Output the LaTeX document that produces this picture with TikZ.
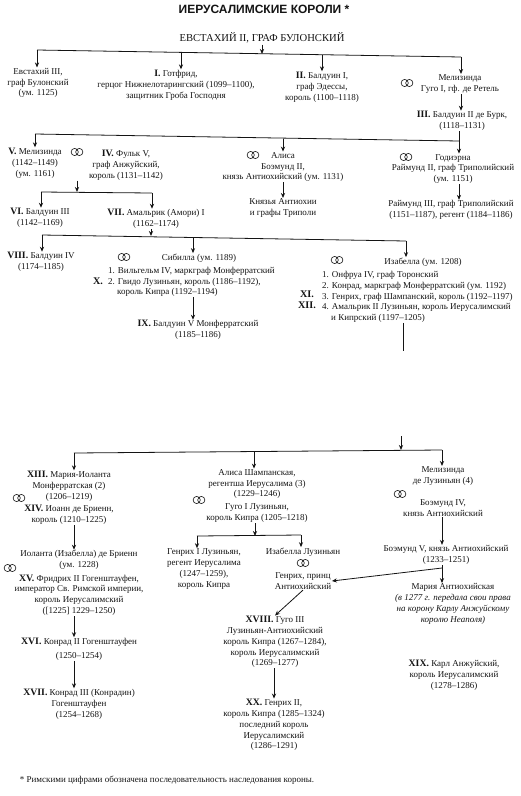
\documentclass[tikz,border=0pt]{standalone}
\usepackage{fontspec}
\setmainfont{Liberation Serif}
\newfontfamily\titlefont{Liberation Sans}
\usetikzlibrary{arrows.meta}
\definecolor{ink}{HTML}{141414}
\newcommand{\nr}[1]{\textbf{\fontsize{9.8}{10}\selectfont #1}}

\begin{document}
\begin{tikzpicture}[
    x=1pt, y=-1pt, text=ink,
    person/.style={inner sep=0.5pt, align=center, font=\fontsize{9}{10.8}\selectfont},
    listing/.style={inner sep=0pt, anchor=west, align=left, font=\fontsize{9}{10.8}\selectfont},
    numeral/.style={inner sep=0pt, font=\bfseries\fontsize{10.2}{11}\selectfont},
    edge/.style={-{Stealth[length=5pt, width=4.2pt]}, draw=ink, line width=0.8pt},
    bus/.style={draw=ink, line width=0.8pt},
    rings/.pic={\draw[ink, line width=0.6pt] (-2.3,0) circle (3.6) (2.3,0) circle (3.6);},
]
\useasboundingbox (0,0) rectangle (520,796);

% title
\node[inner sep=0pt, font=\titlefont\bfseries\fontsize{12}{13}\selectfont] (title) at (264, 9) {ИЕРУСАЛИМСКИЕ КОРОЛИ *};
\node[inner sep=1pt, font=\fontsize{10.6}{12}\selectfont] (eustace2) at (262, 38) {ЕВСТАХИЙ II, ГРАФ БУЛОНСКИЙ};

% first generation
\node[person] (eustace3) at (38, 83) {Евстахий III,\\граф Булонский\\(ум. 1125)};
\node[person] (gottfried) at (176, 85) {\nr{I.} Готфрид,\\герцог Нижнелотарингский (1099–1100),\\защитник Гроба Господня};
\node[person] (baldwin1) at (322, 87) {\nr{II.} Балдуин I,\\граф Эдессы,\\король (1100–1118)};
\node[person] (melis1) at (460, 84) {Мелизинда\\Гуго I, гф. де Ретель};
\node[person] (baldwin2) at (462, 121) {\nr{III.} Балдуин II де Бурк,\\(1118–1131)};
\pic (r1) at (407, 83) {rings};

% second generation
\node[person] (melis2) at (35, 163) {\nr{V.} Мелизинда\\(1142–1149)\\(ум. 1161)};
\node[person] (fulk) at (126, 165) {\nr{IV.} Фульк V,\\граф Анжуйский,\\король (1131–1142)};
\node[person] (alice) at (283, 167) {Алиса\\Боэмунд II,\\князь Антиохийский (ум. 1131)};
\node[person] (princes) at (283, 208) {Князья Антиохии\\и графы Триполи};
\node[person] (hodierna) at (453, 169) {Годиэрна\\Раймунд II, граф Триполийский\\(ум. 1151)};
\node[person] (raymond) at (451, 210) {Раймунд III, граф Триполийский\\(1151–1187), регент (1184–1186)};
\pic (r2) at (77, 152) {rings};
\pic (r3) at (253, 155) {rings};
\pic (r4) at (406, 157) {rings};

% third generation
\node[person] (baldwin3) at (40, 218) {\nr{VI.} Балдуин III\\(1142–1169)};
\node[person] (amalric) at (156, 219) {\nr{VII.} Амальрик (Амори) I\\(1162–1174)};
\node[person] (baldwin4) at (41, 262) {\nr{VIII.} Балдуин IV\\(1174–1185)};
\node[person] (sibylla) at (199, 258) {Сибилла (ум. 1189)};
\node[listing] (sibhusb) at (108, 282) {1. Вильгельм IV, маркграф Монферратский\\2. Гвидо Лузиньян, король (1186–1192),\\\hspace*{9pt}король Кипра (1192–1194)};
\node[numeral] (numx) at (98, 281) {X.};
\node[person] (baldwin5) at (198, 330) {\nr{IX.} Балдуин V Монферратский\\(1185–1186)};
\node[person] (isabella) at (423, 262) {Изабелла (ум. 1208)};
\node[listing] (isahusb) at (322, 297) {1. Онфруа IV, граф Торонский\\2. Конрад, маркграф Монферратский (ум. 1192)\\3. Генрих, граф Шампанский, король (1192–1197)\\4. Амальрик II Лузиньян, король Иерусалимский\\\hspace*{9pt}и Кипрский (1197–1205)};
\node[numeral] (numxi) at (307, 294) {XI.};
\node[numeral] (numxii) at (307, 305) {XII.};
\pic (r5) at (124, 257) {rings};
\pic (r6) at (337, 260) {rings};

% after the break
\node[person] (maria) at (69, 486) {\nr{XIII.} Мария-Иоланта\\Монферратская (2)\\(1206–1219)};
\node[person] (john) at (69, 515) {\nr{XIV.} Иоанн де Бриенн,\\король (1210–1225)};
\node[person] (yolanda) at (79, 560) {Иоланта (Изабелла) де Бриенн\\(ум. 1228)};
\node[person] (frederick) at (79, 595) {\nr{XV.} Фридрих II Гогенштауфен,\\император Св. Римской империи,\\король Иерусалимский\\([1225] 1229–1250)};
\node[person] (conrad2) at (79, 649) {\nr{XVI.} Конрад II Гогенштауфен\\[3pt](1250–1254)};
\node[person] (conrad3) at (79, 704) {\nr{XVII.} Конрад III (Конрадин)\\Гогенштауфен\\(1254–1268)};
\node[person] (alice2) at (257, 484) {Алиса Шампанская,\\регентша Иерусалима (3)\\(1229–1246)};
\node[person] (hugh1) at (257, 513) {Гуго I Лузиньян,\\король Кипра (1205–1218)};
\node[person] (henry1) at (204, 569) {Генрих I Лузиньян,\\регент Иерусалима\\(1247–1259),\\король Кипра};
\node[person] (isabella2) at (303, 552) {Изабелла Лузиньян};
\node[person] (henryp) at (303, 581) {Генрих, принц\\Антиохийский};
\node[person] (hugh3) at (275, 642) {\nr{XVIII.} Гуго III\\Лузиньян-Антиохийский\\король Кипра (1267–1284),\\король Иерусалимский\\(1269–1277)};
\node[person] (henry2) at (274, 725) {\nr{XX.} Генрих II,\\король Кипра (1285–1324)\\последний король\\Иерусалимский\\(1286–1291)};
\node[person] (melis3) at (443, 476) {Мелизинда\\де Лузиньян (4)};
\node[person] (bohem4) at (443, 508) {Боэмунд IV,\\князь Антиохийский};
\node[person] (bohem5) at (446, 555) {Боэмунд V, князь Антиохийский\\(1233–1251)};
\node[person] (mariaa) at (453, 604) {Мария Антиохийская\\\itshape (в 1277 г. передала свои права\\\itshape на корону Карлу Анжуйскому\\\itshape королю Неаполя)};
\node[person] (charles) at (454, 675) {\nr{XIX.} Карл Анжуйский,\\король Иерусалимский\\(1278–1286)};
\pic (r7) at (19, 498) {rings};
\pic (r8) at (10, 568) {rings};
\pic (r9) at (199, 500) {rings};
\pic (r10) at (303, 563) {rings};
\pic (r11) at (400, 494) {rings};

\node[inner sep=0pt, font=\fontsize{9}{10}\selectfont] (footnote) at (167, 780) {* Римскими цифрами обозначена последовательность наследования короны.};

% bus lines
\coordinate (a1) at (37, 50);
\coordinate (a2) at (181, 53);
\coordinate (a0) at (262, 54);
\coordinate (a3) at (322, 55);
\coordinate (a4) at (461, 57);
\coordinate (b1) at (35, 134);
\coordinate (b2) at (283, 139);
\coordinate (b3) at (459, 141);
\coordinate (c0) at (77, 192);
\coordinate (c1) at (41, 192);
\coordinate (c2) at (152, 193);
\coordinate (d0) at (151, 236);
\coordinate (d1) at (42, 235);
\coordinate (d2) at (193, 238);
\coordinate (d3) at (406, 241);
\coordinate (breaktop) at (403, 351);
\coordinate (breakend) at (401, 436);
\coordinate (e1) at (74, 453);
\coordinate (e2) at (254, 452);
\coordinate (e0) at (401, 450);
\coordinate (e3) at (442, 450);
\coordinate (f0) at (255, 536);
\coordinate (f1) at (197, 536);
\coordinate (f2) at (301, 535);
\coordinate (g0) at (442, 568);

\draw[bus] (a1) -- (a4);
\draw[bus] (b1) -- (b3);
\draw[bus] (c1) -- (c2);
\draw[bus] (d1) -- (d3);
\draw[bus] (e1) -- (e3);
\draw[bus] (f1) -- (f2);

\draw[edge] (eustace2.south -| a0) -- (a0);
\draw[edge] (a1) -- (eustace3.north -| a1);
\draw[edge] (a2) -- (gottfried.north -| a2);
\draw[edge] (a3) -- (baldwin1.north -| a3);
\draw[edge] (a4) -- (melis1.north -| a4);
\draw[edge] (melis1.south -| a4) -- (baldwin2.north -| a4);
\draw[bus] (baldwin2.south -| b3) -- (b3);
\draw[edge] (b3) -- (hodierna.north -| b3);
\draw[edge] (b1) -- (melis2.north -| b1);
\draw[edge] (b2) -- (alice.north -| b2);
\draw[edge] (alice) -- (princes);
\draw[edge] (hodierna.south -| b3) -- (raymond.north -| b3);
\draw[edge] (c0 |- fulk.south) -- (c0);
\draw[edge] (c1) -- (baldwin3.north -| c1);
\draw[edge] (c2) -- (amalric.north -| c2);
\draw[edge] (amalric.south -| d0) -- (d0);
\draw[edge] (d1) -- (baldwin4.north -| d1);
\draw[edge] (d2) -- (sibylla.north -| d2);
\draw[edge] (d3) -- (isabella.north -| d3);
\draw[edge] (sibhusb.south -| d2) -- (baldwin5.north -| d2);
\draw[bus] (isahusb.south -| breaktop) -- (breaktop);
\draw[edge] (breakend) -- (e0);
\draw[edge] (e1) -- (maria.north -| e1);
\draw[edge] (e2) -- (alice2.north -| e2);
\draw[edge] (e3) -- (melis3.north -| e3);
\draw[edge] (john.south -| e1) -- (yolanda.north -| e1);
\draw[edge] (frederick.south -| e1) -- (conrad2.north -| e1);
\draw[edge] (conrad2.south -| e1) -- (conrad3.north -| e1);
\draw[edge] (hugh1.south -| f0) -- (f0);
\draw[edge] (f1) -- (henry1.north -| f1);
\draw[edge] (f2) -- (isabella2.north -| f2);
\draw[edge] (bohem4.south -| e3) -- (bohem5.north -| e3);
\draw[bus] (bohem5.south -| g0) -- (g0);
\draw[edge] (g0) -- (mariaa.north -| g0);
\draw[edge] (g0) -- (henryp.east);
\draw[edge] (henryp.south) -- (hugh3.north);
\draw[edge] (hugh3.south -| henry2) -- (henry2.north);

\end{tikzpicture}
\end{document}
